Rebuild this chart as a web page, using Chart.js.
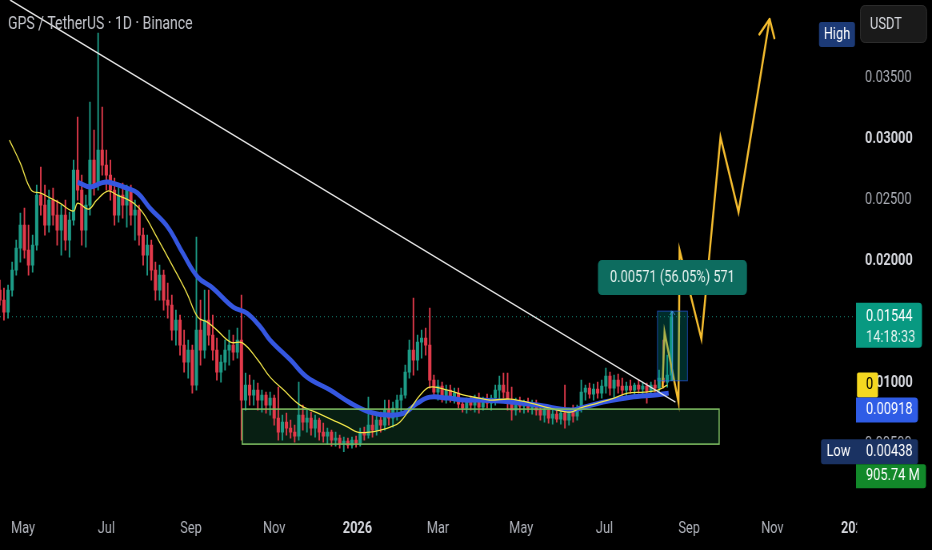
<!DOCTYPE html>
<html lang="en">
<head>
    <meta charset="UTF-8">
    <title>GPS / TetherUS 1D</title>
    <style>
        html, body { margin: 0; padding: 0; background: #000; overflow: hidden; }
        /* the source screenshot is squeezed horizontally: draw wide, then squeeze */
        canvas { display: block; transform: scaleX(0.8); transform-origin: 0 0; }
    </style>
    <script src="https://cdn.jsdelivr.net/npm/chart.js"></script>
</head>
<body>
    <canvas id="chart" width="1165" height="550"></canvas>
    <script>
        // one candle every 3 days, day 0 = 1 May 2025
        const firstDay = -17;
        const stepDays = 3;

        // prices in ticks of 0.00001 USDT
        const opens = [
            1762,1680,1582,1762,1926,2107,2295,2090,1967,2131,
            2541,2459,2295,2500,2377,2254,2377,2172,2336,2746,
            2582,2254,2459,2828,2623,2910,2787,2705,2582,2377,
            2541,2459,2582,2377,2418,2213,2049,2131,1926,1762,
            1885,1680,1639,1434,1516,1311,1172,1270,984,1434,
            1270,1516,1393,1270,1090,1172,1270,1311,1254,1352,
            861,984,902,943,861,902,820,877,713,598,
            680,631,598,566,738,680,713,631,697,598,
            566,598,533,549,500,525,492,533,508,598,
            574,656,615,697,656,779,713,795,861,902,
            1090,1270,1189,1336,1369,1311,1025,926,975,893,
            943,877,918,828,795,844,820,861,803,861,
            836,877,943,984,926,844,779,844,811,836,
            795,828,779,738,779,713,746,705,754,697,
            762,729,795,926,959,910,951,918,975,1057,
            959,1025,975,943,975,943,984,951,975,934,
            984,959,1041,1008,1066
        ];
        const highs = [
            1844,1779,1803,1992,2172,2393,2434,2295,2213,2623,
            2771,2623,2582,2598,2500,2459,2500,2402,2828,3180,
            2705,2541,3304,3074,3869,3262,2910,2828,2680,2623,
            2639,2623,2623,2500,2459,2270,2213,2172,1992,1967,
            1926,1820,1721,1598,1557,1434,1352,1311,2197,1680,
            1762,1762,1557,1369,1229,1352,1434,1393,1451,1721,
            1082,1066,1025,1000,943,926,926,902,967,738,
            754,697,656,1008,820,779,762,738,713,672,
            631,615,598,574,557,549,557,566,631,639,
            885,738,754,762,861,861,844,902,959,1148,
            1352,1697,1393,1434,1451,1615,1066,1025,1008,984,
            984,959,959,861,877,893,902,918,885,910,
            902,984,1057,1082,1082,967,877,885,861,877,
            861,861,828,820,803,779,795,779,984,795,
            820,820,1025,984,1000,992,1008,1025,1123,1090,
            1066,1074,1041,1008,1025,1000,1025,1008,1000,1008,
            1025,1107,1352,1229,1590
        ];
        const lows = [
            1639,1516,1533,1713,1885,1992,2025,1885,1910,2090,
            2377,2213,2238,2295,2131,2049,2090,2033,2295,2500,
            2131,2115,2377,2541,2582,2705,2582,2500,2295,2320,
            2352,2279,2295,2172,2131,1967,1885,1844,1680,1680,
            1598,1533,1352,1311,1229,1090,1041,918,943,1148,
            1205,1311,1189,1025,1008,1107,1148,1189,1205,533,
            779,820,820,779,762,754,738,656,533,533,
            574,549,516,533,615,598,574,557,533,516,
            500,484,484,467,438,467,467,475,484,533,
            549,557,574,598,615,656,639,697,754,877,
            1041,1066,1107,1205,1229,959,877,861,844,836,
            844,836,795,762,754,779,762,754,779,795,
            779,820,861,877,779,697,738,762,754,762,
            746,738,697,680,672,664,680,664,631,656,
            680,697,762,861,877,861,877,877,918,902,
            885,918,902,893,918,902,918,902,836,893,
            926,926,959,967,1019
        ];
        const closes = [
            1680,1582,1762,1926,2107,2295,2090,1967,2131,2541,
            2459,2295,2500,2377,2254,2377,2172,2336,2746,2582,
            2254,2459,2828,2623,2910,2787,2705,2582,2377,2541,
            2459,2582,2377,2418,2213,2049,2131,1926,1762,1885,
            1680,1639,1434,1516,1311,1172,1270,984,1434,1270,
            1516,1393,1270,1090,1172,1270,1311,1254,1352,861,
            984,902,943,861,902,820,877,713,598,680,
            631,598,566,738,680,713,631,697,598,566,
            598,533,549,500,525,492,533,508,598,574,
            656,615,697,656,779,713,795,861,902,1090,
            1270,1189,1336,1369,1311,1025,926,975,893,943,
            877,918,828,795,844,820,861,803,861,836,
            877,943,984,926,844,779,844,811,836,795,
            828,779,738,779,713,746,705,754,697,762,
            729,795,926,959,910,951,918,975,1057,959,
            1025,975,943,975,943,984,951,975,934,984,
            959,1041,1008,1066,1544
        ];

        // moving averages (day, price)
        const yellowDays = [-10,-2,6,13,20,27,37,40,48,54,62,69,76,81,88,98,110,120,128,135,142,152,161,172,181,191,203,216,227,238,245,254,262,269,276,284,291,298,311,323,334,342,357,372,386,401,408,421,433,443,455,465,472];
        const yellowVals = [2992,2803,2582,2557,2516,2475,2410,2475,2426,2500,2574,2541,2508,2475,2393,2197,1951,1738,1541,1500,1434,1336,1328,1189,1049,943,820,754,697,639,598,598,615,639,680,795,902,967,943,902,877,861,869,836,795,762,795,836,877,918,926,943,984];
        const blueDays = [40,49,57,62,76,84,93,106,117,128,139,154,164,174,181,196,208,225,240,254,267,279,289,298,311,323,334,352,377,401,411,425,445,465,473];
        const blueVals = [2648,2607,2639,2648,2598,2557,2434,2279,2066,1869,1779,1623,1574,1459,1353,1189,1049,943,836,762,738,754,836,885,877,861,861,852,820,779,803,844,885,905,918];

        // drawings
        const trendDays = [-9.5, 478];
        const trendVals = [4140, 844];
        const zigDays = [468.5, 470, 480.2, 481, 497, 511, 524.2, 547];
        const zigVals = [967, 1418, 844, 2090, 1361, 3016, 2402, 3984];
        const zoneDays = [160.6, 510];
        const zoneVals = [500, 787];
        const measureDays = [464.8, 486.8];
        const measureVals = [1019, 1590];

        // axes
        const monthDays = [0, 61, 123, 184, 245, 304, 365, 426, 488, 549, 610];
        const monthLabels = ['May', 'Jul', 'Sep', 'Nov', '2026', 'Mar', 'May', 'Jul', 'Sep', 'Nov', '2027'];
        const priceTicks = [500, 1000, 1500, 2000, 2500, 3000, 3500, 4000];

        const titleText = 'GPS / TetherUS · 1D · Binance';
        const countdown = '14:18:33';
        const volumeText = '905.74 M';
        const measureText = '0.00571 (56.05%) 571';

        const SQUEEZE = 0.8;                 // matches the css scaleX
        const px = v => v / SQUEEZE;         // screen x -> canvas x
        const FONT = "Roboto, 'Liberation Sans', sans-serif";
        const UP = '#1d9c87', DOWN = '#e23a4b';
        const ZIG = '#f5bd2f';

        const fmt = v => (v / 1e5).toFixed(5);
        const days = opens.map((_, i) => firstDay + i * stepDays);
        const colors = closes.map((c, i) => c >= opens[i] ? UP : DOWN);
        const lastPrice = closes[closes.length - 1];
        const lowVal = Math.min(...lows);
        const highVal = Math.max(...highs);
        const pts = (xs, ys) => xs.map((d, i) => ({x: d, y: ys[i]}));
        const isYear = i => /^\d{4}$/.test(monthLabels[i]);

        function box(ctx, x, y, w, h, r, fill) {
            ctx.fillStyle = fill;
            ctx.beginPath();
            ctx.roundRect(x, y, w, h, r);
            ctx.fill();
        }
        function label(ctx, s, x, y, color, align, size) {
            ctx.fillStyle = color;
            ctx.textAlign = align || 'left';
            ctx.textBaseline = 'middle';
            ctx.font = (size || 16) + 'px ' + FONT;
            ctx.fillText(s, x, y);
        }
        function arrowHead(ctx, tip, from, len, spread) {
            const a = Math.atan2(from.y - tip.y, from.x - tip.x);
            ctx.beginPath();
            for (const s of [-spread, spread]) {
                ctx.moveTo(tip.x, tip.y);
                ctx.lineTo(tip.x + len * Math.cos(a + s), tip.y + len * Math.sin(a + s));
            }
            ctx.stroke();
        }

        const overlays = {
            id: 'overlays',
            beforeDatasetsDraw(chart) {
                const {ctx, chartArea, scales: {x, y}} = chart;
                ctx.save();
                const zx0 = x.getPixelForValue(zoneDays[0]), zx1 = x.getPixelForValue(zoneDays[1]);
                const zy0 = y.getPixelForValue(zoneVals[1]), zy1 = y.getPixelForValue(zoneVals[0]);
                ctx.fillStyle = 'rgba(25,95,60,0.32)';
                ctx.fillRect(zx0, zy0, zx1 - zx0, zy1 - zy0);
                // last price line
                const yp = y.getPixelForValue(lastPrice);
                ctx.setLineDash([1, 4]);
                ctx.strokeStyle = '#17917f';
                ctx.lineWidth = 1;
                ctx.beginPath();
                ctx.moveTo(chartArea.left, yp);
                ctx.lineTo(chartArea.right, yp);
                ctx.stroke();
                ctx.restore();
            },
            afterDatasetsDraw(chart) {
                const {ctx, chartArea, scales: {x, y}} = chart;
                ctx.save();
                ctx.beginPath();
                ctx.rect(chartArea.left, chartArea.top, chartArea.right - chartArea.left, chartArea.bottom - chartArea.top);
                ctx.clip();
                // zone border
                const zx0 = x.getPixelForValue(zoneDays[0]), zx1 = x.getPixelForValue(zoneDays[1]);
                const zy0 = y.getPixelForValue(zoneVals[1]), zy1 = y.getPixelForValue(zoneVals[0]);
                ctx.strokeStyle = '#7fbf62';
                ctx.lineWidth = 1.5;
                ctx.strokeRect(zx0, zy0, zx1 - zx0, zy1 - zy0);
                // price range tool
                const mx0 = x.getPixelForValue(measureDays[0]), mx1 = x.getPixelForValue(measureDays[1]);
                const my0 = y.getPixelForValue(measureVals[1]), my1 = y.getPixelForValue(measureVals[0]);
                const mxc = (mx0 + mx1) / 2;
                ctx.fillStyle = 'rgba(0,150,140,0.30)';
                ctx.fillRect(mx0, my0, mx1 - mx0, my1 - my0);
                ctx.strokeStyle = 'rgba(41,98,255,0.6)';
                ctx.lineWidth = 1;
                ctx.strokeRect(mx0, my0, mx1 - mx0, my1 - my0);
                ctx.strokeStyle = 'rgba(70,150,230,0.9)';
                ctx.beginPath();
                ctx.moveTo(mxc, my1);
                ctx.lineTo(mxc, my0);
                ctx.stroke();
                arrowHead(ctx, {x: mxc, y: my0}, {x: mxc, y: my1}, 5, 0.7);
                box(ctx, mxc - px(74.5), my0 - 51, px(149), 35, 5, '#0d6c5f');
                label(ctx, measureText, mxc, my0 - 33, '#e6f2ef', 'center');
                // zigzag arrow head
                const zm = chart.getDatasetMeta(0).data;
                ctx.strokeStyle = ZIG;
                ctx.lineWidth = 2.5;
                ctx.lineCap = 'round';
                arrowHead(ctx, zm[zm.length - 1], zm[zm.length - 2], 20, 0.5);
                ctx.restore();
            },
            afterDraw(chart) {
                const {ctx, chartArea, scales: {y}} = chart;
                ctx.save();
                // clip the time labels under the price scale
                ctx.fillStyle = '#000';
                ctx.fillRect(chartArea.right, chartArea.bottom, px(100), 60);
                // last price
                const yp = y.getPixelForValue(lastPrice);
                box(ctx, px(856), yp - 14, px(66), 45, [0, 4, 4, 0], '#089981');
                label(ctx, fmt(lastPrice), px(866), yp, '#ffffff');
                label(ctx, countdown, px(866), yp + 21, '#e3f3ef');
                // moving average badges
                const yy = y.getPixelForValue(yellowVals[yellowVals.length - 1]);
                box(ctx, px(857), yy - 12.5, px(21), 25, 2, '#f5d820');
                label(ctx, '0', px(866), yy, '#000000');
                box(ctx, px(856), yy + 12.5, px(62), 25, [0, 4, 4, 0], '#2f5ce6');
                label(ctx, fmt(blueVals[blueVals.length - 1]), px(866), yy + 25, '#ffffff');
                // low / volume
                const yl = y.getPixelForValue(lowVal);
                box(ctx, px(821), yl - 12.5, px(35), 25, [3, 0, 0, 3], '#1a3262');
                label(ctx, 'Low', px(838.5), yl, '#ffffff', 'center');
                box(ctx, px(856), yl - 12.5, px(62), 25, [0, 3, 3, 0], '#1a3262');
                label(ctx, fmt(lowVal), px(866), yl, '#ffffff');
                box(ctx, px(856), yl + 12.5, px(70), 24, [0, 3, 3, 0], '#12892a');
                label(ctx, volumeText, px(866), yl + 24.5, '#ffffff');
                // high
                const yh = y.getPixelForValue(highVal);
                box(ctx, px(819), yh - 11, px(36), 25, 3, '#1c3a76');
                label(ctx, 'High', px(837), yh + 1.5, '#ffffff', 'center');
                // currency button
                box(ctx, px(860), 5, px(67), 38, 6, '#1a1a1a');
                ctx.strokeStyle = '#2c2c2c';
                ctx.lineWidth = 1;
                ctx.beginPath();
                ctx.roundRect(px(860) + 0.5, 5.5, px(67) - 1, 37, 6);
                ctx.stroke();
                label(ctx, 'USDT', px(870), 24.5, '#d8dae0');
                // title
                label(ctx, titleText, px(8), 24.5, '#c3c5cb', 'left', 17.5);
                ctx.restore();
            }
        };

        new Chart(document.getElementById('chart'), {
            type: 'bar',
            data: {
                datasets: [
                    {
                        type: 'line', label: 'Projection', data: pts(zigDays, zigVals),
                        borderColor: ZIG, borderWidth: 2.5, pointRadius: 0, tension: 0, order: 0
                    },
                    {
                        type: 'line', label: 'Trend', data: pts(trendDays, trendVals),
                        borderColor: '#e6e6e6', borderWidth: 1.4, pointRadius: 0, tension: 0, order: 1
                    },
                    {
                        type: 'line', label: 'MA fast', data: pts(yellowDays, yellowVals),
                        borderColor: '#f2e64a', borderWidth: 1.3, pointRadius: 0, tension: 0.4, order: 2
                    },
                    {
                        type: 'line', label: 'MA slow', data: pts(blueDays, blueVals),
                        borderColor: '#3557e0', borderWidth: 5, pointRadius: 0, tension: 0.4, order: 3
                    },
                    {
                        label: 'Body', data: days.map((d, i) => ({x: d, y: [opens[i], closes[i]]})),
                        backgroundColor: colors, barThickness: 3.4, minBarLength: 1,
                        grouped: false, order: 4
                    },
                    {
                        label: 'Wick', data: days.map((d, i) => ({x: d, y: [lows[i], highs[i]]})),
                        backgroundColor: colors, barThickness: 1.2,
                        grouped: false, order: 5
                    }
                ]
            },
            options: {
                responsive: false,
                animation: false,
                events: [],
                layout: { padding: 0 },
                plugins: { legend: { display: false }, tooltip: { enabled: false } },
                scales: {
                    x: {
                        type: 'linear', min: -16.9, max: 611, offset: false,
                        grid: { display: false, drawTicks: false },
                        border: { display: false },
                        afterBuildTicks: s => { s.ticks = monthDays.map(v => ({value: v})); },
                        afterFit: s => { s.height = 40; s.paddingLeft = 0; s.paddingRight = 0; },
                        ticks: {
                            autoSkip: false, maxRotation: 0, padding: 9,
                            callback: (v, i) => monthLabels[i],
                            color: c => isYear(c.index) ? '#d6d8de' : '#b0b3bb',
                            font: c => ({ family: FONT, size: 16, weight: isYear(c.index) ? 'bold' : 'normal' })
                        }
                    },
                    y: {
                        position: 'right', min: -40, max: 4140,
                        grid: { display: false, drawTicks: false },
                        border: { display: false },
                        afterBuildTicks: s => { s.ticks = priceTicks.map(v => ({value: v})); },
                        afterFit: s => { s.width = px(75); s.paddingTop = 0; s.paddingBottom = 0; },
                        ticks: {
                            padding: px(8),
                            callback: v => fmt(v),
                            color: c => c.tick && c.tick.value % 1000 === 0 ? '#d6d8de' : '#a9acb4',
                            font: c => ({
                                family: FONT, size: 16,
                                weight: c.tick && c.tick.value % 1000 === 0 ? 'bold' : 'normal'
                            })
                        }
                    }
                }
            },
            plugins: [overlays]
        });
    </script>
</body>
</html>
